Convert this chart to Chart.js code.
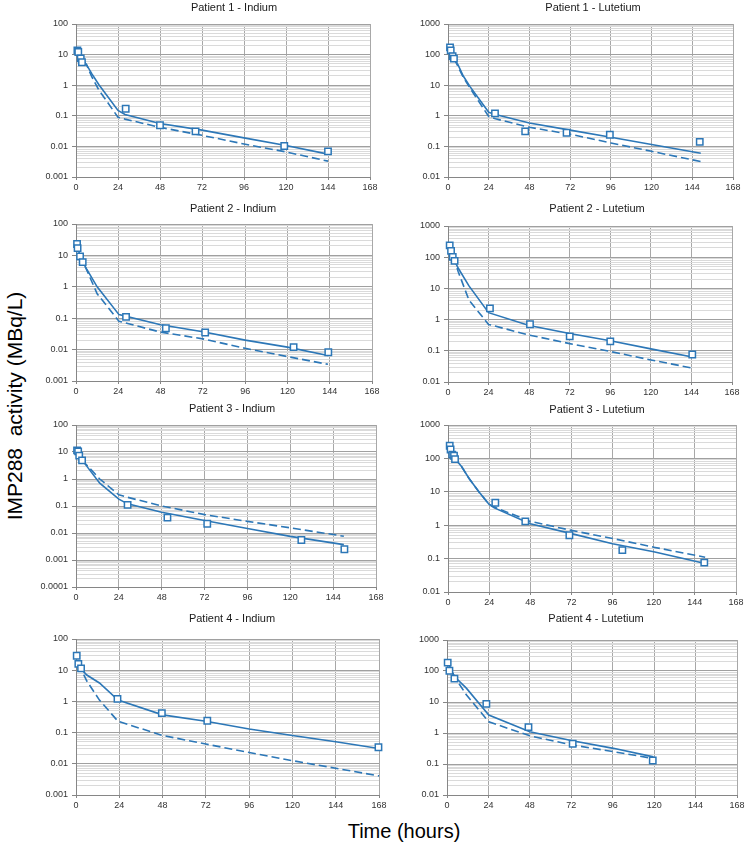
<!DOCTYPE html>
<html>
<head>
<meta charset="utf-8">
<script src="https://cdn.jsdelivr.net/npm/chart.js@4.4.1/dist/chart.umd.min.js"></script>
<style>
  html, body { margin: 0; padding: 0; background: #fff; overflow: hidden; }
  #wrap { position: relative; width: 747px; height: 845px; }
  #wrap canvas { position: absolute; }
  .axis-title { position: absolute; font-family: 'Liberation Sans', Arial, sans-serif; color: #000; white-space: pre; line-height: 1; }
  #ytitle { left: 14px; top: 406px; font-size: 21px; transform: translate(-50%, -50%) rotate(-90deg); }
  #xtitle { left: 404px; top: 831px; font-size: 20px; transform: translate(-50%, -50%); }
</style>
</head>
<body>
<div id="wrap">
  <div class="axis-title" id="ytitle">IMP288  activity (MBq/L)</div>
  <div class="axis-title" id="xtitle">Time (hours)</div>
</div>
<script>
// tick labels
const xTicks = [0, 24, 48, 72, 96, 120, 144, 168];
const yTicksIn = ['0.001', '0.01', '0.1', '1', '10', '100'];
const yTicksIn3 = ['0.0001', '0.001', '0.01', '0.1', '1', '10', '100'];
const yTicksLu = ['0.01', '0.1', '1', '10', '100', '1000'];

// Patient 1 - Indium
const p1InT = [0.8, 1.3, 2.7, 3.4, 28.4, 48, 68.3, 119, 144];
const p1InV = [13.8, 12.2, 7.5, 5.6, 0.17, 0.049, 0.031, 0.0103, 0.0069];
const p1InFitT = [0.8, 3, 6, 9, 13, 24, 28, 48, 72, 96, 120, 144];
const p1InSolid = [13, 7.5, 4.7, 2.4, 1.05, 0.15, 0.11, 0.056, 0.034, 0.019, 0.0107, 0.0056];
const p1InDashed = [13, 7.5, 4.7, 1.9, 0.7, 0.09, 0.078, 0.042, 0.023, 0.012, 0.0066, 0.0033];

// Patient 1 - Lutetium
const p1LuT = [1.2, 1.6, 2.7, 3.5, 27.7, 45.5, 69.9, 95.4, 148.4];
const p1LuV = [173, 138, 88, 74, 1.2, 0.31, 0.28, 0.24, 0.14];
const p1LuFitT = [1.2, 3, 6, 9, 13, 24, 28, 48, 72, 96, 120, 149];
const p1LuSolid = [170, 85, 45, 20, 9, 1.3, 1.1, 0.58, 0.34, 0.2, 0.115, 0.06];
const p1LuDashed = [170, 85, 40, 18, 8, 0.95, 0.8, 0.42, 0.25, 0.13, 0.069, 0.032];

// Patient 2 - Indium
const p2InT = [0.6, 0.9, 2.3, 3.8, 28.4, 51, 73.3, 123.5, 143.2];
const p2InV = [23, 17, 9.3, 6.1, 0.11, 0.048, 0.035, 0.012, 0.0082];
const p2InFitT = [0.6, 2.3, 4, 6, 12, 24.4, 48, 72, 96, 120, 143];
const p2InSolid = [23, 9.3, 6, 3.7, 1.0, 0.13, 0.062, 0.037, 0.02, 0.012, 0.0065];
const p2InDashed = [23, 9.3, 6, 3.5, 0.6, 0.08, 0.036, 0.022, 0.011, 0.006, 0.0034];

// Patient 2 - Lutetium
const p2LuT = [1, 1.8, 2.8, 3.9, 24.8, 48.5, 72, 96, 144.5];
const p2LuV = [240, 160, 102, 76, 2.3, 0.71, 0.29, 0.2, 0.076];
const p2LuFitT = [1, 2.8, 4, 6, 12.4, 24, 48, 72, 96, 120, 144.5];
const p2LuSolid = [240, 100, 75, 45, 12, 1.67, 0.65, 0.36, 0.21, 0.115, 0.063];
const p2LuDashed = [240, 100, 75, 35, 4.2, 0.7, 0.32, 0.17, 0.095, 0.051, 0.028];

// Patient 3 - Indium
const p3InT = [0.6, 1.2, 1.8, 3.4, 28.9, 51.2, 73.5, 126.2, 150.3];
const p3InV = [11.5, 10.5, 7.3, 4.9, 0.11, 0.037, 0.022, 0.0055, 0.0025];
const p3InFitT = [0, 3.4, 6, 13.3, 24, 28.9, 48, 72, 96, 120, 150];
const p3InSolid = [12, 5, 3.0, 0.7, 0.18, 0.12, 0.059, 0.029, 0.0146, 0.0075, 0.0037];
const p3InDashed = [12, 5, 3.3, 1.0, 0.26, 0.21, 0.10, 0.048, 0.027, 0.0155, 0.0076];

// Patient 3 - Lutetium
const p3LuT = [1, 1.5, 2.5, 3.5, 4.1, 27.6, 45.1, 70.8, 101.7, 149.5];
const p3LuV = [240, 185, 130, 120, 95, 4.7, 1.3, 0.5, 0.18, 0.076];
const p3LuFitT = [1, 4, 8, 12.3, 18, 24, 27, 48, 72, 96, 120, 150];
const p3LuSolid = [240, 100, 56, 25, 10, 4.2, 3.3, 1.1, 0.56, 0.28, 0.16, 0.071];
const p3LuDashed = [240, 100, 56, 25, 10, 4.2, 3.5, 1.3, 0.7, 0.4, 0.22, 0.11];

// Patient 4 - Indium
const p4InT = [0.4, 1.3, 2.8, 23, 47.6, 72.8, 167.7];
const p4InV = [29, 16, 11.4, 1.2, 0.42, 0.24, 0.034];
const p4InFitT = [1.3, 2.8, 6, 13, 23.3, 48, 72, 96, 120, 144, 168];
const p4InSolid = [16, 11, 7, 3.9, 1.1, 0.37, 0.23, 0.13, 0.081, 0.051, 0.031];
const p4InDashed = [16, 11, 4.5, 1.1, 0.23, 0.081, 0.043, 0.023, 0.0126, 0.0072, 0.0041];

// Patient 4 - Lutetium
const p4LuT = [0.4, 1.4, 4.3, 22.8, 47.2, 72.8, 119.2];
const p4LuV = [186, 102, 57, 8.7, 1.55, 0.45, 0.13];
const p4LuFitT = [0.4, 4.3, 11.2, 24.2, 48, 72.6, 96.4, 119.6];
const p4LuSolid = [186, 66, 28, 3.8, 1.1, 0.56, 0.32, 0.17];
const p4LuDashed = [186, 66, 17, 2.3, 0.81, 0.41, 0.25, 0.15];

const BLUE = '#2c77b7';
const FONT = "'Liberation Sans', Arial, sans-serif";
const Y_W = 46, X_H = 22, PAD_T = 26, PAD_R = 14;

// plot area [left, top, right, bottom] and title centre, in page pixels
const panels = [
  { title: 'Patient 1 - Indium',   area: [76, 24, 370, 177],   titleAt: [234, 8],   yTicks: yTicksIn,  t: p1InT, v: p1InV, fitT: p1InFitT, solid: p1InSolid, dashed: p1InDashed },
  { title: 'Patient 1 - Lutetium', area: [448, 24, 733, 177],  titleAt: [593, 8],   yTicks: yTicksLu,  t: p1LuT, v: p1LuV, fitT: p1LuFitT, solid: p1LuSolid, dashed: p1LuDashed },
  { title: 'Patient 2 - Indium',   area: [76, 224, 372, 381],  titleAt: [233, 209], yTicks: yTicksIn,  t: p2InT, v: p2InV, fitT: p2InFitT, solid: p2InSolid, dashed: p2InDashed },
  { title: 'Patient 2 - Lutetium', area: [448, 226, 732, 382], titleAt: [597, 209], yTicks: yTicksLu,  t: p2LuT, v: p2LuV, fitT: p2LuFitT, solid: p2LuSolid, dashed: p2LuDashed },
  { title: 'Patient 3 - Indium',   area: [76, 425, 376, 587],  titleAt: [232, 409], yTicks: yTicksIn3, t: p3InT, v: p3InV, fitT: p3InFitT, solid: p3InSolid, dashed: p3InDashed },
  { title: 'Patient 3 - Lutetium', area: [448, 425, 736, 592], titleAt: [597, 410], yTicks: yTicksLu,  t: p3LuT, v: p3LuV, fitT: p3LuFitT, solid: p3LuSolid, dashed: p3LuDashed },
  { title: 'Patient 4 - Indium',   area: [76, 639, 379, 795],  titleAt: [232, 619], yTicks: yTicksIn,  t: p4InT, v: p4InV, fitT: p4InFitT, solid: p4InSolid, dashed: p4InDashed },
  { title: 'Patient 4 - Lutetium', area: [447, 640, 737, 795], titleAt: [596, 619], yTicks: yTicksLu,  t: p4LuT, v: p4LuV, fitT: p4LuFitT, solid: p4LuSolid, dashed: p4LuDashed }
];

function toXY(xs, ys) {
  return xs.map((x, i) => ({ x: x, y: ys[i] }));
}

function isDecade(v) {
  const l = Math.log10(v);
  return Math.abs(l - Math.round(l)) < 1e-6;
}

// decade lines plus 2..9 minor lines
function logTicks(labels) {
  const max = parseFloat(labels[labels.length - 1]);
  const out = [];
  labels.forEach(function(s) {
    const d = parseFloat(s);
    for (let k = 1; k <= 9; k++) {
      const v = +(d * k).toPrecision(4);
      if (v > max * 1.0001) break;
      out.push({ value: v, major: k === 1 });
    }
  });
  return out;
}

const panelTitle = {
  id: 'panelTitle',
  afterDraw(chart, args, opts) {
    const ctx = chart.ctx;
    ctx.save();
    ctx.font = '11px ' + FONT;
    ctx.fillStyle = '#1a1a1a';
    ctx.textAlign = 'center';
    ctx.textBaseline = 'middle';
    ctx.fillText(opts.text, opts.x, opts.y);
    ctx.restore();
  }
};

const wrap = document.getElementById('wrap');

panels.forEach(function(p) {
  const [l, t, r, b] = p.area;
  const left = l - Y_W, top = t - PAD_T;
  const w = r + PAD_R - left, h = b + X_H - top;
  const cv = document.createElement('canvas');
  cv.width = w; cv.height = h;
  cv.style.left = left + 'px'; cv.style.top = top + 'px';
  cv.style.width = w + 'px'; cv.style.height = h + 'px';
  wrap.appendChild(cv);

  const yMin = parseFloat(p.yTicks[0]);
  const yMax = parseFloat(p.yTicks[p.yTicks.length - 1]);

  new Chart(cv, {
    type: 'line',
    data: {
      datasets: [
        {
          data: toXY(p.t, p.v),
          showLine: false,
          pointStyle: 'rect',
          pointRadius: 4.5,
          pointBorderWidth: 1.5,
          borderColor: BLUE,
          pointBackgroundColor: '#fff',
          clip: false
        },
        {
          data: toXY(p.fitT, p.solid),
          borderColor: BLUE,
          borderWidth: 1.6,
          pointRadius: 0,
          tension: 0
        },
        {
          data: toXY(p.fitT, p.dashed),
          borderColor: BLUE,
          borderWidth: 1.6,
          borderDash: [8, 4],
          pointRadius: 0,
          tension: 0
        }
      ]
    },
    options: {
      responsive: false,
      animation: false,
      layout: { padding: { top: PAD_T, right: PAD_R, left: 0, bottom: 0 } },
      plugins: {
        legend: { display: false },
        tooltip: { enabled: false },
        panelTitle: { text: p.title, x: p.titleAt[0] - left, y: p.titleAt[1] - top }
      },
      scales: {
        x: {
          type: 'linear',
          min: xTicks[0],
          max: xTicks[xTicks.length - 1],
          afterBuildTicks: function(s) { s.ticks = xTicks.map(v => ({ value: v })); },
          afterFit: function(s) { s.height = X_H; },
          ticks: { autoSkip: false, maxRotation: 0, padding: 2, color: '#333', font: { family: FONT, size: 9 } },
          grid: { color: '#a8a8a8', lineWidth: 1, tickLength: 3, tickColor: '#868686' },
          border: { color: '#868686', width: 1 }
        },
        y: {
          type: 'logarithmic',
          min: yMin,
          max: yMax,
          afterBuildTicks: function(s) { s.ticks = logTicks(p.yTicks); },
          afterFit: function(s) { s.width = Y_W; },
          ticks: {
            autoSkip: false,
            padding: 4,
            color: '#333',
            font: { family: FONT, size: 9 },
            callback: function(v) {
              const i = p.yTicks.findIndex(s => Math.abs(parseFloat(s) - v) < v * 1e-6);
              return i >= 0 ? p.yTicks[i] : '';
            }
          },
          grid: {
            lineWidth: 1,
            tickLength: 4,
            color: c => isDecade(c.tick.value) ? '#a0a0a0' : '#dadada',
            tickColor: c => isDecade(c.tick.value) ? '#868686' : 'rgba(0,0,0,0)'
          },
          border: { color: '#868686', width: 1 }
        }
      }
    },
    plugins: [panelTitle]
  });
});
</script>
</body>
</html>
